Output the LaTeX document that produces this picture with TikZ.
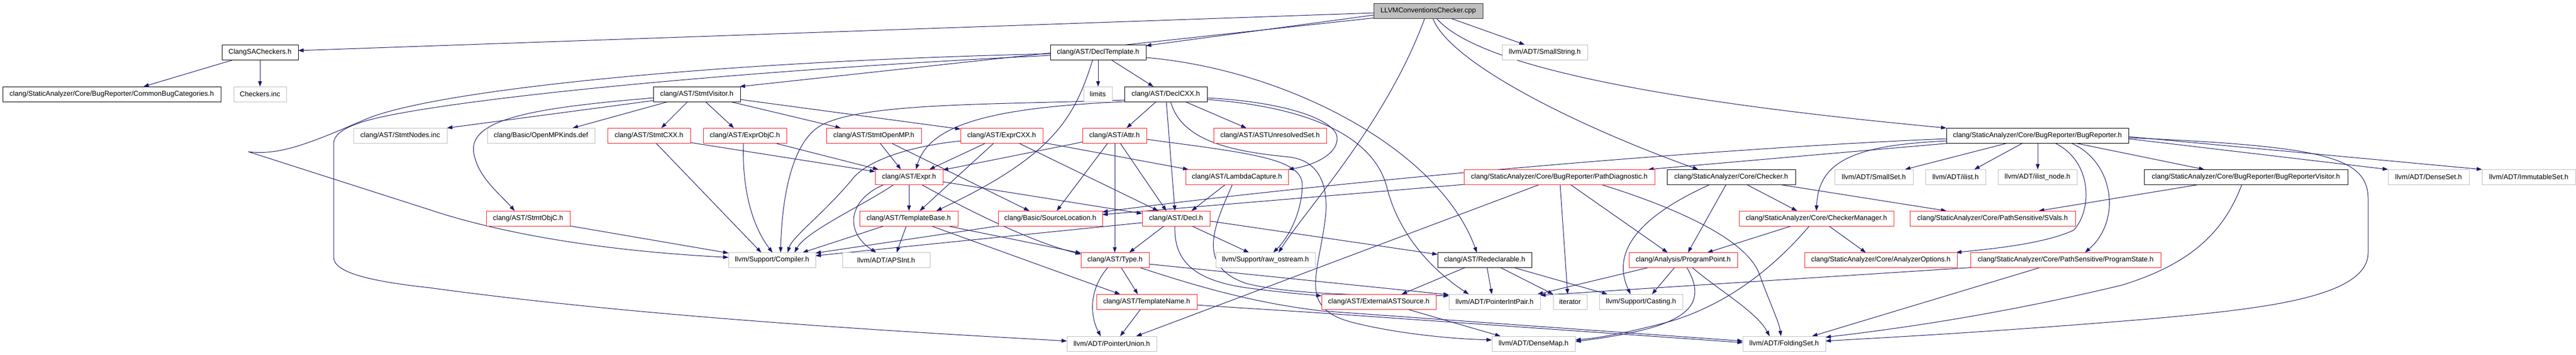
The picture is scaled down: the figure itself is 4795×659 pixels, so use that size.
\documentclass[tikz,border=0pt]{standalone}
\usepackage{fontspec}
\newfontfamily\dfont{Liberation Sans}
\usetikzlibrary{calc,arrows.meta}
\definecolor{midblue}{RGB}{25,25,112}
\definecolor{gryb}{RGB}{191,191,191}
\definecolor{redb}{RGB}{255,30,30}
\pgfdeclarelayer{bg}
\pgfsetlayers{bg,main}
\tikzset{
 box/.style={draw, rectangle, inner sep=0pt, minimum height=28pt, line width=1pt, fill=white, font={\dfont\fontsize{13}{15}\selectfont}},
 bk/.style={box, draw=black},
 rd/.style={box, draw=redb},
 gy/.style={box, draw=gryb},
 rootbox/.style={box, draw=black!80, fill=gryb},
 edge/.style={draw=midblue, line width=1pt, -{Triangle[length=10pt,width=7pt]}}
}
\begin{document}
\begin{tikzpicture}[x=1pt,y=-1pt]
\useasboundingbox (0,0) rectangle (4795,659);
% nodes
\node[rootbox, minimum width=203] (R) at (2658.5,20) {LLVMConventionsChecker.cpp};
\node[bk, minimum width=142] (CSA) at (484,97) {ClangSACheckers.h};
\node[bk, minimum width=178] (DT) at (2044,97) {clang/AST/DeclTemplate.h};
\node[gy, minimum width=159] (SS) at (2875.5,97) {llvm/ADT/SmallString.h};
\node[bk, minimum width=406] (CBC) at (208,175) {clang/StaticAnalyzer/Core/BugReporter/CommonBugCategories.h};
\node[gy, minimum width=98] (CI) at (484,175) {Checkers.inc};
\node[bk, minimum width=162] (SV) at (1297,175) {clang/AST/StmtVisitor.h};
\node[gy, minimum width=53] (LIM) at (2043.5,175) {limits};
\node[bk, minimum width=154] (DC) at (2170,175) {clang/AST/DeclCXX.h};
\node[gy, minimum width=174] (SNI) at (745,252) {clang/AST/StmtNodes.inc};
\node[gy, minimum width=200] (OMK) at (1007,252) {clang/Basic/OpenMPKinds.def};
\node[rd, minimum width=154] (SCX) at (1208,252) {clang/AST/StmtCXX.h};
\node[rd, minimum width=155] (EOC) at (1386.5,252) {clang/AST/ExprObjC.h};
\node[rd, minimum width=177] (SOM) at (1626.5,252) {clang/AST/StmtOpenMP.h};
\node[rd, minimum width=153] (ECX) at (1864.5,252) {clang/AST/ExprCXX.h};
\node[rd, minimum width=119] (AT) at (2074.5,252) {clang/AST/Attr.h};
\node[rd, minimum width=210] (AUS) at (2364,252) {clang/AST/ASTUnresolvedSet.h};
\node[bk, minimum width=339] (BR) at (3792.5,252) {clang/StaticAnalyzer/Core/BugReporter/BugReporter.h};
\node[rd, minimum width=126] (EX) at (1692,329) {clang/AST/Expr.h};
\node[rd, minimum width=191] (LC) at (2302.5,329) {clang/AST/LambdaCapture.h};
\node[rd, minimum width=355] (PD) at (2902.5,329) {clang/StaticAnalyzer/Core/BugReporter/PathDiagnostic.h};
\node[bk, minimum width=239] (CK) at (3222.5,329) {clang/StaticAnalyzer/Core/Checker.h};
\node[gy, minimum width=146] (SSET) at (3488,329) {llvm/ADT/SmallSet.h};
\node[gy, minimum width=112] (IL) at (3640,329) {llvm/ADT/ilist.h};
\node[gy, minimum width=147] (ILN) at (3792.5,329) {llvm/ADT/ilist\_node.h};
\node[bk, minimum width=379] (BV) at (4180.5,329) {clang/StaticAnalyzer/Core/BugReporter/BugReporterVisitor.h};
\node[gy, minimum width=151] (DS) at (4520.5,329) {llvm/ADT/DenseSet.h};
\node[gy, minimum width=174] (IS) at (4707,329) {llvm/ADT/ImmutableSet.h};
\node[rd, minimum width=156] (SOC) at (983,406) {clang/AST/StmtObjC.h};
\node[rd, minimum width=183] (TB) at (1691.5,406) {clang/AST/TemplateBase.h};
\node[rd, minimum width=194] (SL) at (1955,406) {clang/Basic/SourceLocation.h};
\node[rd, minimum width=126] (DE) at (2189,406) {clang/AST/Decl.h};
\node[rd, minimum width=288] (CM) at (3381,406) {clang/StaticAnalyzer/Core/CheckerManager.h};
\node[rd, minimum width=308] (SVL) at (3709,406) {clang/StaticAnalyzer/Core/PathSensitive/SVals.h};
\node[gy, minimum width=162] (CO) at (1437,483.5) {llvm/Support/Compiler.h};
\node[gy, minimum width=163] (API) at (1649.5,483.5) {llvm/ADT/APSInt.h};
\node[rd, minimum width=127] (TY) at (2075.5,483.5) {clang/AST/Type.h};
\node[gy, minimum width=185] (RO) at (2355.5,483.5) {llvm/Support/raw\_ostream.h};
\node[bk, minimum width=175] (RD) at (2763.5,483.5) {clang/AST/Redeclarable.h};
\node[rd, minimum width=202] (PP) at (3133,483.5) {clang/Analysis/ProgramPoint.h};
\node[rd, minimum width=284] (AO) at (3501,483.5) {clang/StaticAnalyzer/Core/AnalyzerOptions.h};
\node[rd, minimum width=354] (PS) at (3845,483.5) {clang/StaticAnalyzer/Core/PathSensitive/ProgramState.h};
\node[rd, minimum width=187] (TN) at (2134.5,561) {clang/AST/TemplateName.h};
\node[rd, minimum width=213] (EAS) at (2566.5,561) {clang/AST/ExternalASTSource.h};
\node[gy, minimum width=170] (PIP) at (2782,561) {llvm/ADT/PointerIntPair.h};
\node[gy, minimum width=63] (IT) at (2922.5,561) {iterator};
\node[gy, minimum width=155] (CA) at (3054.5,561) {llvm/Support/Casting.h};
\node[gy, minimum width=167] (PU) at (2069.5,639) {llvm/ADT/PointerUnion.h};
\node[gy, minimum width=155] (DM) at (2854.5,639) {llvm/ADT/DenseMap.h};
\node[gy, minimum width=154] (FS) at (3321,639) {llvm/ADT/FoldingSet.h};
\begin{pgfonlayer}{bg}
\fill[white] (0,0) rectangle (4795,659);
% root
\draw[edge] ($(R.center)+(-101.5,4)$) -- ($(CSA.center)+(71,-3)$);
\draw[edge] ($(R.center)+(-101.5,8)$) -- ($(DT.center)+(89,-12)$);
\draw[edge] ($(R.center)+(-98,13)$) -- ($(SV.center)+(80,-14)$);
\draw[edge] ($(R.center)+(41.5,14)$) -- ($(SS.center)+(-37.5,-14)$);
\draw[edge] ($(R.center)+(15.5,14)$) .. controls (2730,100) and (2950,175) .. ($(BR.center)+(-169.5,-14)$);
\draw[edge] ($(R.center)+(8.5,14)$) .. controls (2700,120) and (2950,240) .. ($(CK.center)+(-61.5,-14)$);
\draw[edge] ($(R.center)+(-6.5,14)$) .. controls (2580,230) and (2430,390) .. ($(RO.center)+(24.5,-14)$);
% ClangSACheckers
\draw[edge] ($(CSA.center)+(-49,14)$) -- ($(CBC.center)+(59,-14)$);
\draw[edge] ($(CSA.center)+(0,14)$) -- ($(CI.center)+(0,-14)$);
% DeclTemplate
\draw[edge] ($(DT.center)+(-89,3)$) .. controls (1300,115) and (800,170) .. (680,222) .. controls (580,265) and (520,290) .. (462,282) -- (800,390) .. controls (950,440) and (1150,468) .. ($(CO.center)+(-81,-5)$);
\draw[edge] ($(DT.center)+(-89,6)$) .. controls (1300,135) and (800,190) .. (680,225) .. controls (640,237) and (621,250) .. (621,268) -- (621,478) .. controls (621,505) and (680,522) .. (800,535) .. controls (1200,590) and (1700,618) .. ($(PU.center)+(-83.5,-5)$);
\draw[edge] ($(DT.center)+(0,14)$) -- ($(LIM.center)+(0.5,-14)$);
\draw[edge] ($(DT.center)+(24,14)$) -- ($(DC.center)+(-23,-14)$);
\draw[edge] ($(DT.center)+(-10,14)$) .. controls (2000,220) and (1960,290) .. ($(TB.center)+(51.5,-14)$);
\draw[edge] ($(DT.center)+(89,10)$) .. controls (2400,130) and (2680,280) .. ($(RD.center)+(-14.5,-14)$);
% DeclCXX
\draw[edge] ($(DC.center)+(-77,11)$) .. controls (1850,195) and (1600,190) .. (1525,235) .. controls (1470,270) and (1455,380) .. ($(CO.center)+(16,-14)$);
\draw[edge] ($(DC.center)+(-77,14)$) .. controls (1850,200) and (1730,230) .. ($(EX.center)+(13,-14)$);
\draw[edge] ($(DC.center)+(-18,14)$) -- ($(AT.center)+(22.5,-14)$);
\draw[edge] ($(DC.center)+(1,14)$) -- ($(DE.center)+(-2,-14)$);
\draw[edge] ($(DC.center)+(36,14)$) -- ($(AUS.center)+(-44,-14)$);
\draw[edge] ($(DC.center)+(77,7)$) .. controls (2400,190) and (2490,225) .. (2489,258) .. controls (2488,290) and (2440,308) .. ($(LC.center)+(95.5,-14)$);
\draw[edge] ($(DC.center)+(77,10)$) .. controls (2450,200) and (2560,260) .. (2582,350) .. controls (2605,440) and (2670,505) .. ($(PIP.center)+(-48,-14)$);
\draw[edge] ($(DC.center)+(9,14)$) .. controls (2200,265) and (2300,282) .. (2400,292) .. controls (2465,300) and (2475,360) .. (2465,420) .. controls (2450,520) and (2420,575) .. (2520,600) .. controls (2600,620) and (2700,630) .. ($(DM.center)+(-77.5,-7)$);
% Attr
\draw[edge] ($(AT.center)+(59.5,7)$) .. controls (2330,285) and (2425,295) .. (2424,345) .. controls (2423,400) and (2395,445) .. ($(RO.center)+(14.5,-14)$);
\draw[edge] ($(AT.center)+(-59.5,12)$) -- ($(EX.center)+(63,-13)$);
\draw[edge] ($(AT.center)+(-12.5,14)$) -- ($(SL.center)+(12,-14)$);
\draw[edge] ($(AT.center)+(0.5,14)$) -- ($(TY.center)+(-0.5,-14)$);
\draw[edge] ($(AT.center)+(10.5,14)$) -- ($(DE.center)+(-18,-14)$);
% Decl
\draw[edge] ($(DE.center)+(29,14)$) -- ($(RO.center)+(-30.5,-14)$);
\draw[edge] ($(DE.center)+(-22,14)$) -- ($(TY.center)+(26.5,-14)$);
\draw[edge] ($(DE.center)+(-63,8)$) -- ($(CO.center)+(81,-8)$);
\draw[edge] ($(DE.center)+(-2,14)$) .. controls (2185,480) and (2215,520) .. (2320,535) .. controls (2380,543) and (2425,547) .. ($(EAS.center)+(-106.5,-11)$);
\draw[edge] ($(DE.center)+(63,5)$) -- ($(RD.center)+(-87.5,-10.5)$);
% SourceLocation, TemplateBase
\draw[edge] ($(SL.center)+(-96,14)$) -- ($(CO.center)+(81,-13)$);
\draw[edge] ($(TB.center)+(-45.5,14)$) -- ($(CO.center)+(57,-14)$);
\draw[edge] ($(TB.center)+(-4.5,14)$) -- ($(API.center)+(19.5,-14)$);
\draw[edge] ($(TB.center)+(41.5,14)$) -- ($(TN.center)+(-49.5,-14)$);
\draw[edge] ($(TB.center)+(71.5,14)$) -- ($(TY.center)+(-63.5,-13)$);
% Expr
\draw[edge] ($(EX.center)+(0,14)$) -- ($(TB.center)+(0.5,-14)$);
\draw[edge] ($(EX.center)+(23,14)$) .. controls (1800,390) and (1920,450) .. ($(TY.center)+(-63.5,-11)$);
\draw[edge] ($(EX.center)+(63,9)$) -- ($(DE.center)+(-63,-9)$);
\draw[edge] ($(EX.center)+(-28,14)$) .. controls (1610,380) and (1500,430) .. ($(CO.center)+(42,-14)$);
\draw[edge] ($(EX.center)+(-46,14)$) .. controls (1580,370) and (1570,430) .. ($(API.center)+(-18.5,-14)$);
% ExprCXX
\draw[edge] ($(ECX.center)+(-29.5,14)$) -- ($(EX.center)+(38,-14)$);
\draw[edge] ($(ECX.center)+(-14.5,14)$) -- ($(TB.center)+(20.5,-14)$);
\draw[edge] ($(ECX.center)+(31.5,14)$) -- ($(DE.center)+(-33,-14)$);
\draw[edge] ($(ECX.center)+(76.5,13)$) -- ($(LC.center)+(-90.5,-14)$);
\draw[edge] ($(ECX.center)+(-76.5,10)$) .. controls (1690,272) and (1610,300) .. (1585,335) .. controls (1530,400) and (1475,440) .. ($(CO.center)+(29,-14)$);
% StmtOpenMP, StmtCXX, ExprObjC, StmtObjC
\draw[edge] ($(SOM.center)+(11.5,14)$) -- ($(EX.center)+(-15,-14)$);
\draw[edge] ($(SOM.center)+(32.5,14)$) -- ($(SL.center)+(-39,-14)$);
\draw[edge] ($(SCX.center)+(77,13)$) -- ($(EX.center)+(-63,-10)$);
\draw[edge] ($(EOC.center)+(55.5,14)$) -- ($(EX.center)+(-57,-14)$);
\draw[edge] ($(SCX.center)+(13,14)$) -- ($(CO.center)+(-20,-14)$);
\draw[edge] ($(EOC.center)+(-2.5,14)$) .. controls (1380,380) and (1415,440) .. ($(CO.center)+(1,-14)$);
\draw[edge] ($(SOC.center)+(78,14)$) -- ($(CO.center)+(-81,-13)$);
% StmtVisitor
\draw[edge] ($(SV.center)+(-81,7)$) .. controls (1000,200) and (870,220) .. (882,285) .. controls (890,330) and (930,360) .. ($(SOC.center)+(-25,-14)$);
\draw[edge] ($(SV.center)+(-81,12)$) -- ($(SNI.center)+(87,-14)$);
\draw[edge] ($(SV.center)+(-53,14)$) -- ($(OMK.center)+(59,-14)$);
\draw[edge] ($(SV.center)+(-17,14)$) -- ($(SCX.center)+(23,-14)$);
\draw[edge] ($(SV.center)+(16,14)$) -- ($(EOC.center)+(-20.5,-14)$);
\draw[edge] ($(SV.center)+(62,14)$) -- ($(SOM.center)+(-61.5,-14)$);
\draw[edge] ($(SV.center)+(81,10)$) -- ($(ECX.center)+(-76.5,-12)$);
% LambdaCapture
\draw[edge] ($(LC.center)+(-21.5,14)$) -- ($(DE.center)+(29,-14)$);
\draw[edge] ($(LC.center)+(-8.5,14)$) .. controls (2260,420) and (2225,495) .. (2320,527) .. controls (2420,552) and (2600,548) .. ($(PIP.center)+(-85,-11)$);
% Type, TemplateName
\draw[edge] ($(TY.center)+(63.5,7.5)$) -- ($(PIP.center)+(-85,-13)$);
\draw[edge] ($(TY.center)+(-13.5,14)$) .. controls (2025,540) and (2030,590) .. ($(PU.center)+(-20.5,-14)$);
\draw[edge] ($(TY.center)+(11.5,14)$) -- ($(TN.center)+(-16.5,-14)$);
\draw[edge] ($(TY.center)+(46.5,14)$) .. controls (2250,540) and (2350,565) .. (2460,578) -- ($(FS.center)+(-77,-5)$);
\draw[edge] ($(TN.center)+(93.5,6)$) .. controls (2300,572) and (2400,578) .. (2460,582) -- ($(FS.center)+(-77,-2)$);
\draw[edge] ($(TN.center)+(-11.5,14)$) -- ($(PU.center)+(15.5,-14)$);
% PathDiagnostic
\draw[edge] ($(PD.center)+(-36.5,14)$) -- ($(PU.center)+(45.5,-14)$);
\draw[edge] ($(PD.center)+(1.5,14)$) -- ($(IT.center)+(-4.5,-14)$);
\draw[edge] ($(PD.center)+(20.5,14)$) -- ($(PP.center)+(-29,-14)$);
\draw[edge] ($(PD.center)+(77.5,14)$) .. controls (3100,380) and (3250,440) .. (3275,510) .. controls (3295,565) and (3312,600) .. ($(FS.center)+(-6,-14)$);
\draw[edge] ($(PD.center)+(-177.5,14)$) -- ($(SL.center)+(97,-7)$);
% BugReporter
\draw[edge] ($(BR.center)+(-169.5,6)$) .. controls (3200,275) and (2500,335) .. ($(SL.center)+(97,-12)$);
\draw[edge] ($(BR.center)+(-161.5,14)$) -- ($(PD.center)+(165.5,-14)$);
\draw[edge] ($(BR.center)+(-169.5,10)$) .. controls (3450,270) and (3385,300) .. ($(CM.center)+(0,-14)$);
\draw[edge] ($(BR.center)+(-55.5,14)$) -- ($(SSET.center)+(58,-14)$);
\draw[edge] ($(BR.center)+(-27.5,14)$) -- ($(IL.center)+(35,-14)$);
\draw[edge] ($(BR.center)+(0.5,14)$) -- ($(ILN.center)+(0.5,-14)$);
\draw[edge] ($(BR.center)+(32.5,14)$) .. controls (3895,300) and (3895,390) .. (3860,428) .. controls (3800,455) and (3700,463) .. ($(AO.center)+(140,-14)$);
\draw[edge] ($(BR.center)+(62.5,14)$) .. controls (3935,300) and (3950,410) .. ($(PS.center)+(36,-14)$);
\draw[edge] ($(BR.center)+(70.5,14)$) -- ($(BV.center)+(-77.5,-14)$);
\draw[edge] ($(BR.center)+(169.5,6)$) -- ($(DS.center)+(-75.5,-14)$);
\draw[edge] ($(BR.center)+(169.5,2)$) -- ($(IS.center)+(-87,-14)$);
\draw[edge] ($(BR.center)+(169.5,4)$) .. controls (4320,272) and (4408,290) .. (4408,370) -- (4408,470) .. controls (4408,555) and (4200,575) .. (4000,593) .. controls (3700,618) and (3500,628) .. ($(FS.center)+(77,-5)$);
% BugReporterVisitor
\draw[edge] ($(BV.center)+(-86.5,14)$) -- ($(SVL.center)+(86,-14)$);
\draw[edge] ($(BV.center)+(-7.5,14)$) .. controls (4140,430) and (4080,490) .. (3950,530) .. controls (3700,590) and (3500,615) .. ($(FS.center)+(77,-12)$);
% Checker
\draw[edge] ($(CK.center)+(-9.5,14)$) -- ($(PP.center)+(9,-14)$);
\draw[edge] ($(CK.center)+(28.5,14)$) -- ($(CM.center)+(-36,-14)$);
\draw[edge] ($(CK.center)+(89.5,14)$) -- ($(SVL.center)+(-86,-14)$);
\draw[edge] ($(CK.center)+(-39.5,14)$) .. controls (3090,385) and (2990,450) .. ($(CA.center)+(-19.5,-14)$);
% CheckerManager
\draw[edge] ($(CM.center)+(-46,14)$) -- ($(PP.center)+(45,-14)$);
\draw[edge] ($(CM.center)+(23,14)$) -- ($(AO.center)+(-28,-14)$);
\draw[edge] ($(CM.center)+(-13,14)$) .. controls (3300,500) and (3210,570) .. (3100,600) .. controls (3030,618) and (2980,628) .. ($(DM.center)+(78,-7)$);
% ProgramPoint, ProgramState
\draw[edge] ($(PP.center)+(-65,14)$) -- ($(PIP.center)+(80,-14)$);
\draw[edge] ($(PP.center)+(-16,14)$) -- ($(CA.center)+(20.5,-14)$);
\draw[edge] ($(PP.center)+(7,14)$) .. controls (3185,575) and (3130,610) .. ($(DM.center)+(78,-4)$);
\draw[edge] ($(PP.center)+(17,14)$) .. controls (3200,540) and (3270,580) .. ($(FS.center)+(-27,-14)$);
\draw[edge] ($(PS.center)+(-177,14)$) -- ($(PIP.center)+(85,-12)$);
\draw[edge] ($(PS.center)+(-48,14)$) -- ($(FS.center)+(52,-14)$);
% Redeclarable, ExternalASTSource
\draw[edge] ($(RD.center)+(-36.5,14)$) -- ($(EAS.center)+(42.5,-14)$);
\draw[edge] ($(RD.center)+(4.5,14)$) -- ($(PIP.center)+(-5,-14)$);
\draw[edge] ($(RD.center)+(29.5,14)$) -- ($(IT.center)+(-31.5,-14)$);
\draw[edge] ($(RD.center)+(54.5,14)$) -- ($(CA.center)+(-62.5,-14)$);
\draw[edge] ($(EAS.center)+(53.5,14)$) -- ($(DM.center)+(-61.5,-14)$);
\end{pgfonlayer}
\end{tikzpicture}
\end{document}
